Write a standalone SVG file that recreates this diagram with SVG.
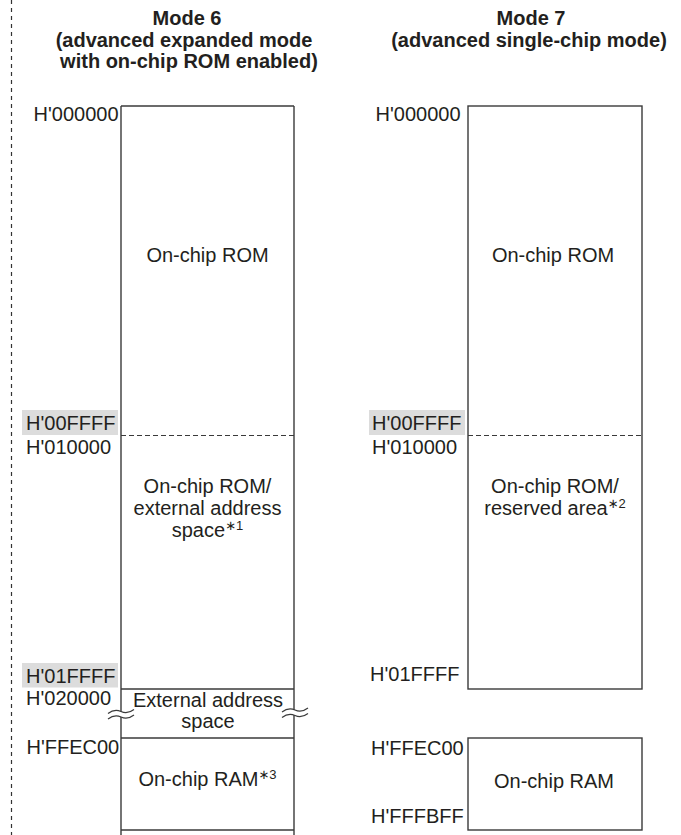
<svg xmlns="http://www.w3.org/2000/svg" width="681" height="835" viewBox="0 0 681 835">
<style>
  text { font-family: "Liberation Sans", Arial, "DejaVu Sans", sans-serif; font-size: 20px; fill: #231f20; }
  .title { font-weight: bold; text-anchor: middle; }
  .c { text-anchor: middle; }
  .e { text-anchor: end; }
  .sup { font-size: 13px; }
  .box { fill: none; stroke: #3a3a3a; stroke-width: 1.4; }
  .line { stroke: #3a3a3a; stroke-width: 1.4; fill: none; }
  .dash { stroke: #3a3a3a; stroke-width: 1.2; stroke-dasharray: 5 3; fill: none; }
  .hl { fill: #dcdcdc; }
  .wave { stroke: #3a3a3a; stroke-width: 1.2; fill: none; }
  .gap { fill: #ffffff; stroke: none; }
</style>
<rect x="0" y="0" width="681" height="835" fill="#ffffff"/>

<line x1="11.5" y1="0" x2="11.5" y2="835" stroke="#333333" stroke-width="1.2" stroke-dasharray="4 4"/>

<g id="title-mode6">
  <text class="title" x="187" y="25">Mode 6</text>
  <text class="title" x="184" y="46.5">(advanced expanded mode</text>
  <text class="title" x="189" y="68">with on-chip ROM enabled)</text>
</g>
<g id="title-mode7">
  <text class="title" x="531" y="25">Mode 7</text>
  <text class="title" x="529" y="46.5">(advanced single-chip mode)</text>
</g>

<!-- Mode 6 column -->
<g id="m6-outline">
  <line class="line" x1="121" y1="106" x2="294" y2="106"/>
  <line class="line" x1="121" y1="106" x2="121" y2="840"/>
  <line class="line" x1="294" y1="106" x2="294" y2="840"/>
</g>
<g id="m6-rom">
  <text class="c" x="207.5" y="262">On-chip ROM</text>
</g>
<g id="m6-rom-ext">
  <line class="dash" x1="121" y1="435.5" x2="294" y2="435.5"/>
  <text class="c" x="207.5" y="493">On-chip ROM/</text>
  <text class="c" x="207.5" y="515">external address</text>
  <text class="c" x="207.5" y="537">space<tspan class="sup" dy="-7">∗1</tspan></text>
</g>
<g id="m6-ext">
  <line class="line" x1="121" y1="689" x2="294" y2="689"/>
  <text class="c" x="208" y="707">External address</text>
  <text class="c" x="208" y="728">space</text>
</g>
<g id="m6-ram">
  <line class="line" x1="121" y1="738" x2="294" y2="738"/>
  <text class="c" x="207.5" y="786">On-chip RAM<tspan class="sup" dy="-7">∗3</tspan></text>
  <line class="line" x1="121" y1="830" x2="294" y2="830"/>
</g>
<g id="m6-breaks">
  <path class="gap" d="M108,713.5 Q114.5,708.5 121,711.5 T134,709.5 L134,715 Q127.5,720 121,717 T108,719 Z"/>
  <path class="wave" d="M108,713.5 Q114.5,708.5 121,711.5 T134,709.5"/>
  <path class="wave" d="M108,719 Q114.5,714 121,717 T134,715"/>
  <path class="gap" d="M282,712 Q288.5,707 295,710 T308,708 L308,713.5 Q301.5,718.5 295,715.5 T282,717.5 Z"/>
  <path class="wave" d="M282,712 Q288.5,707 295,710 T308,708"/>
  <path class="wave" d="M282,717.5 Q288.5,712.5 295,715.5 T308,713.5"/>
</g>
<g id="m6-addresses">
  <text class="e" x="118.5" y="121">H'000000</text>
  <rect class="hl" x="22" y="410" width="96" height="25"/>
  <text x="26" y="430">H'00FFFF</text>
  <text x="26" y="454">H'010000</text>
  <rect class="hl" x="22" y="663" width="96" height="24.5"/>
  <text x="26" y="683">H'01FFFF</text>
  <text x="26" y="705">H'020000</text>
  <text x="26.5" y="754">H'FFEC00</text>
</g>

<!-- Mode 7 column -->
<g id="m7-rom">
  <rect class="box" x="468" y="106" width="174" height="583"/>
  <text class="c" x="553" y="262">On-chip ROM</text>
</g>
<g id="m7-rom-reserved">
  <line class="dash" x1="468" y1="435.5" x2="642" y2="435.5"/>
  <text class="c" x="555" y="493">On-chip ROM/</text>
  <text class="c" x="555" y="515">reserved area<tspan class="sup" dy="-7">∗2</tspan></text>
</g>
<g id="m7-ram">
  <rect class="box" x="468" y="738" width="174" height="92"/>
  <text class="c" x="554" y="788">On-chip RAM</text>
</g>
<g id="m7-addresses">
  <text class="e" x="460.5" y="121">H'000000</text>
  <rect class="hl" x="369" y="410" width="96" height="25"/>
  <text x="372" y="430">H'00FFFF</text>
  <text x="372" y="454">H'010000</text>
  <text x="370" y="681">H'01FFFF</text>
  <text x="371" y="755">H'FFEC00</text>
  <text x="371" y="823">H'FFFBFF</text>
</g>

<g id="connectors"></g>
</svg>
